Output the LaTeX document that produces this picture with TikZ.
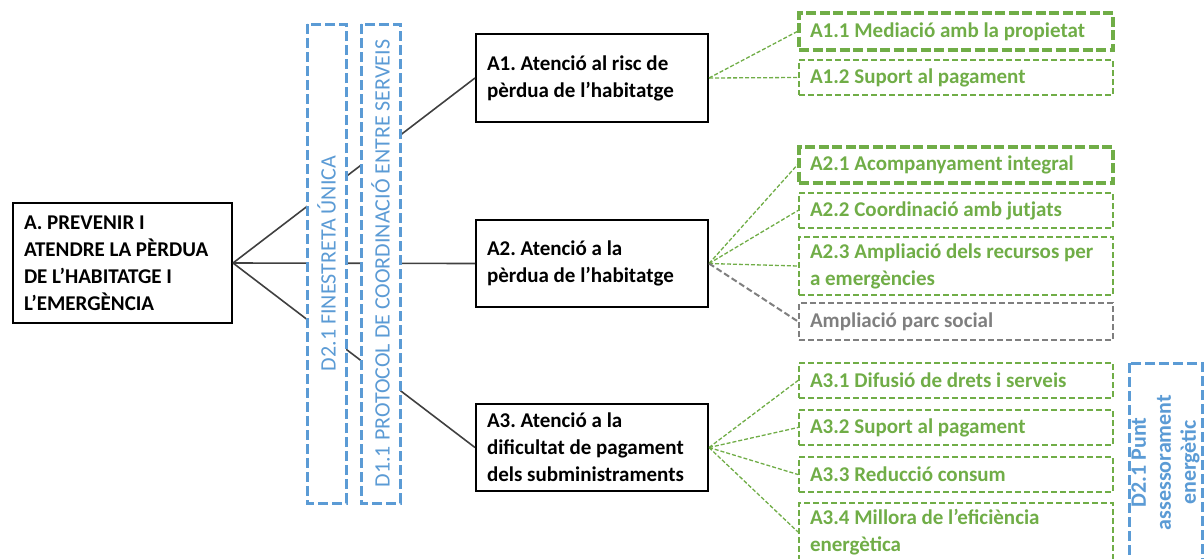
\documentclass[tikz,border=0pt]{standalone}
\usepackage{fontspec}
\setmainfont{Carlito}
\frenchspacing
\definecolor{grn}{HTML}{70AD47}
\definecolor{blu}{HTML}{5B9BD5}
\definecolor{gry}{HTML}{7F7F7F}
\definecolor{dk}{HTML}{404040}
\DeclareRobustCommand\myboxfont{\bfseries\fontsize{21}{27}\selectfont\raggedright\hyphenpenalty=10000\relax}
\tikzset{
  mainbox/.style={draw=black, line width=2pt, fill=white, inner xsep=10pt, inner ysep=0pt,
    font=\myboxfont, text=black, execute at begin node={\spaceskip=4.75pt plus 1pt\relax}},
  gbox/.style={draw=grn, line width=2pt, dash pattern=on 6pt off 3pt, inner xsep=10pt, inner ysep=0pt,
    minimum width=314pt, text width=292pt, font=\myboxfont, text=grn,
    execute at begin node={\spaceskip=4.75pt plus 1pt\relax}},
  gboxthick/.style={gbox, line width=3.5pt, dash pattern=on 10pt off 3.5pt},
  graybox/.style={gbox, draw=gry, text=gry},
  bluebox/.style={draw=blu, line width=3pt, dash pattern=on 10pt off 4pt, fill=white, rotate=90, text=blu,
    inner sep=0pt, align=center},
  link/.style={draw=dk, line width=1.6pt},
  glink/.style={draw=grn, line width=1.3pt, dash pattern=on 4pt off 2pt},
  graylink/.style={draw=gry, line width=2pt, dash pattern=on 6pt off 3pt},
}
\begin{document}
\begin{tikzpicture}[x=1pt,y=-1pt]
\useasboundingbox (0,0) rectangle (1204,558);
\clip (0,0) rectangle (1204,558);
% main boxes
\node[mainbox, minimum width=219pt, minimum height=120pt, text width=197pt] (A) at (122.5,263)
  {A. PREVENIR I\\ATENDRE LA PÈRDUA\\DE L’HABITATGE I\\L’EMERGÈNCIA};
\node[mainbox, minimum width=232pt, minimum height=88pt, text width=210pt] (A1) at (592,78)
  {A1. Atenció al risc de\\pèrdua de l’habitatge};
\node[mainbox, minimum width=232pt, minimum height=87pt, text width=210pt] (A2) at (592,263.5)
  {A2. Atenció a la\\pèrdua de l’habitatge};
\node[mainbox, minimum width=232pt, minimum height=87pt, text width=210pt] (A3) at (592,447.5)
  {A3. Atenció a la\\dificultat de pagament\\dels subministraments};
% main links
\draw[link] (A.east) -- (A1.west);
\draw[link] (A.east) -- (A2.west);
\draw[link] (A.east) -- (A3.west);
% blue vertical boxes
\node[bluebox, minimum width=479pt, minimum height=39pt, font=\fontsize{22}{22}\selectfont] (D21) at (326.5,263.5)
  {D2.1 FINESTRETA ÚNICA};
\node[bluebox, minimum width=479pt, minimum height=39pt, font=\fontsize{22}{22}\selectfont] (D11) at (380.5,263.5)
  {D1.1 PROTOCOL DE COORDINACIÓ ENTRE SERVEIS};
\node[bluebox, minimum width=199pt, minimum height=73pt, font=\bfseries\fontsize{22}{25}\selectfont] (D21b) at (1165.5,462.5)
  {D2.1 Punt\\assessorament\\energètic};
% green boxes
\node[gboxthick, minimum height=37pt] (A11) at (956,31.5) {A1.1 Mediació amb la propietat};
\node[gbox, minimum height=35pt] (A12) at (956,77.5) {A1.2 Suport al pagament};
\node[gboxthick, minimum height=36pt] (A21) at (956,165) {A2.1 Acompanyament integral};
\node[gbox, minimum height=35pt] (A22) at (956,210.5) {A2.2 Coordinació amb jutjats};
\node[gbox, minimum height=58pt] (A23) at (956,266) {\mbox{A2.3 Ampliació dels recursos per}\\a emergències};
\node[graybox, minimum height=37pt] (APS) at (956,321.5) {Ampliació parc social};
\node[gbox, minimum height=35pt] (A31) at (956,380.5) {A3.1 Difusió de drets i serveis};
\node[gbox, minimum height=35pt] (A32) at (956,427.5) {A3.2 Suport al pagament};
\node[gbox, minimum height=35pt] (A33) at (956,474.5) {A3.3 Reducció consum};
\node[gbox, minimum height=58pt] (A34) at (956,532) {A3.4 Millora de l’eficiència\\energètica};
% green links
\draw[glink] (A1.east) -- (A11.west);
\draw[glink] (A1.east) -- (A12.west);
\draw[glink] (A2.east) -- (A21.west);
\draw[glink] (A2.east) -- (A22.west);
\draw[glink] (A2.east) -- (A23.west);
\draw[graylink] (A2.east) -- (APS.west);
\draw[glink] (A3.east) -- (A31.west);
\draw[glink] (A3.east) -- (A32.west);
\draw[glink] (A3.east) -- (A33.west);
\draw[glink] (A3.east) -- (A34.west);
\end{tikzpicture}
\end{document}
